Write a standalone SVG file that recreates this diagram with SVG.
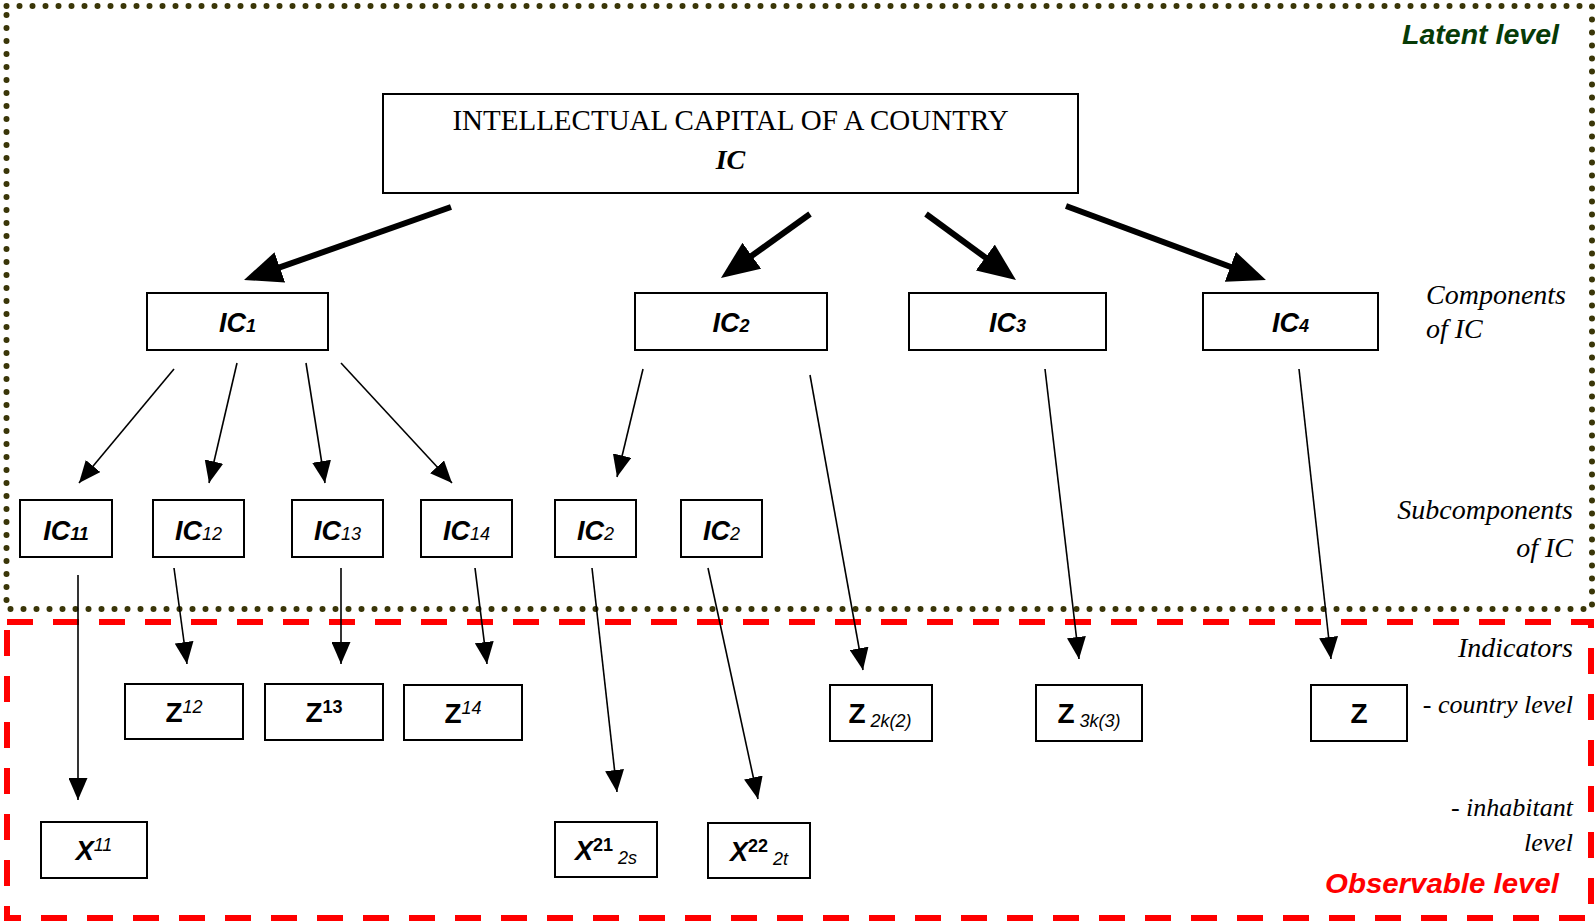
<svg xmlns="http://www.w3.org/2000/svg" width="1596" height="923" viewBox="0 0 1596 923">
<defs>
<style>
.box{fill:#fff;stroke:#000;stroke-width:2}
.nt{font-family:"Liberation Sans",Arial,sans-serif;font-weight:bold;font-style:italic;font-size:27px;text-anchor:middle;fill:#000}
.zt{font-family:"Liberation Sans Narrow","Liberation Sans",Arial,sans-serif;font-weight:bold;font-size:28px;text-anchor:middle;fill:#000}
.xt{font-family:"Liberation Sans",Arial,sans-serif;font-weight:bold;font-style:italic;font-size:27px;text-anchor:middle;fill:#000}
.sm{font-size:18px;font-weight:normal;font-style:italic}
.smb{font-size:18px;font-weight:bold}
.lbl{font-family:"Liberation Serif","Times New Roman",serif;font-style:italic;font-size:28px;fill:#000}
.lbs{font-size:26px}
.lvl{font-family:"Liberation Sans",Arial,sans-serif;font-weight:bold;font-style:italic;font-size:28px}
.thin{stroke:#000;stroke-width:1.6;fill:none;marker-end:url(#ah)}
.thick{stroke:#000;stroke-width:6;fill:none;marker-end:url(#big)}
</style>
<marker id="ah" markerUnits="userSpaceOnUse" viewBox="0 0 22 19" markerWidth="22" markerHeight="19" refX="22" refY="9.5" orient="auto">
<path d="M0,0 L22,9.5 L0,19 z" fill="#000"/>
</marker>
<marker id="big" markerUnits="userSpaceOnUse" viewBox="0 0 38 32" markerWidth="38" markerHeight="32" refX="10" refY="16" orient="auto">
<path d="M0,0 L38,16 L0,32 z" fill="#000"/>
</marker>
</defs>

<g id="levels">
<rect x="6.5" y="6" width="1585.5" height="603" fill="none" stroke="#3a3608" stroke-width="6" stroke-linecap="round" stroke-dasharray="0 13"/>
<rect x="7" y="622" width="1584" height="296" fill="none" stroke="#ff0000" stroke-width="6" stroke-dasharray="26 20"/>
<text class="lvl" x="1559" y="44" text-anchor="end" fill="#073b07" textLength="157" lengthAdjust="spacingAndGlyphs">Latent level</text>
<text class="lvl" x="1559" y="893" text-anchor="end" fill="#ff0000" textLength="234" lengthAdjust="spacingAndGlyphs">Observable level</text>
</g>

<g id="labels">
<text class="lbl" x="1426" y="304">Components</text>
<text class="lbl" x="1426" y="338">of IC</text>
<text class="lbl" x="1573" y="519" text-anchor="end">Subcomponents</text>
<text class="lbl" x="1573" y="557" text-anchor="end">of IC</text>
<text class="lbl" x="1573" y="657" text-anchor="end">Indicators</text>
<text class="lbl lbs" x="1573" y="713" text-anchor="end">- country level</text>
<text class="lbl lbs" x="1573" y="816" text-anchor="end">- inhabitant</text>
<text class="lbl lbs" x="1573" y="851" text-anchor="end">level</text>
</g>

<g id="connectors">
<line class="thick" x1="451" y1="207" x2="270.4" y2="270.7"/>
<line class="thick" x1="810" y1="214" x2="743.7" y2="261.6"/>
<line class="thick" x1="926" y1="214" x2="993.4" y2="263.4"/>
<line class="thick" x1="1066" y1="206" x2="1239.7" y2="270.3"/>
<line class="thin" x1="174" y1="369" x2="79" y2="483"/>
<line class="thin" x1="237" y1="363" x2="209" y2="483"/>
<line class="thin" x1="306" y1="363" x2="325" y2="483"/>
<line class="thin" x1="341" y1="363" x2="452" y2="483"/>
<line class="thin" x1="643" y1="369" x2="617" y2="477"/>
<line class="thin" x1="810" y1="375" x2="863" y2="670"/>
<line class="thin" x1="1045" y1="369" x2="1079" y2="659"/>
<line class="thin" x1="1299" y1="369" x2="1331" y2="659"/>
<line class="thin" x1="78" y1="575" x2="78" y2="800"/>
<line class="thin" x1="174" y1="568" x2="187" y2="664"/>
<line class="thin" x1="341" y1="568" x2="341" y2="664"/>
<line class="thin" x1="475" y1="568" x2="487" y2="664"/>
<line class="thin" x1="592" y1="568" x2="617" y2="792"/>
<line class="thin" x1="708" y1="568" x2="758" y2="799"/>
</g>

<g id="n-ic">
<rect class="box" x="383" y="94" width="695" height="99"/>
<text x="730.5" y="130" text-anchor="middle" font-family="Liberation Serif, Times New Roman, serif" font-size="29">INTELLECTUAL CAPITAL OF A COUNTRY</text>
<text x="730.5" y="169" text-anchor="middle" font-family="Liberation Serif, Times New Roman, serif" font-size="28" font-weight="bold" font-style="italic">IC</text>
</g>

<g id="n-ic1"><rect class="box" x="147" y="293" width="181" height="57"/><text class="nt" x="237.5" y="332">IC<tspan class="smb">1</tspan></text></g>
<g id="n-ic2"><rect class="box" x="635" y="293" width="192" height="57"/><text class="nt" x="731" y="332">IC<tspan class="smb">2</tspan></text></g>
<g id="n-ic3"><rect class="box" x="909" y="293" width="197" height="57"/><text class="nt" x="1007.5" y="332">IC<tspan class="smb">3</tspan></text></g>
<g id="n-ic4"><rect class="box" x="1203" y="293" width="175" height="57"/><text class="nt" x="1290.5" y="332">IC<tspan class="smb">4</tspan></text></g>

<g id="n-ic11"><rect class="box" x="20" y="500" width="92" height="57"/><text class="nt" x="66" y="540">IC<tspan class="smb">11</tspan></text></g>
<g id="n-ic12"><rect class="box" x="153" y="500" width="91" height="57"/><text class="nt" x="198.5" y="540">IC<tspan class="sm">12</tspan></text></g>
<g id="n-ic13"><rect class="box" x="292" y="500" width="91" height="57"/><text class="nt" x="337.5" y="540">IC<tspan class="sm">13</tspan></text></g>
<g id="n-ic14"><rect class="box" x="421" y="500" width="91" height="57"/><text class="nt" x="466.5" y="540">IC<tspan class="sm">14</tspan></text></g>
<g id="n-ic2a"><rect class="box" x="555" y="500" width="81" height="57"/><text class="nt" x="595.5" y="540">IC<tspan class="sm" font-style="normal">2</tspan></text></g>
<g id="n-ic2b"><rect class="box" x="681" y="500" width="81" height="57"/><text class="nt" x="721.5" y="540">IC<tspan class="sm" font-style="normal">2</tspan></text></g>

<g id="n-z12"><rect class="box" x="125" y="684" width="118" height="55"/><text class="zt" x="184" y="722">Z<tspan class="sm" dy="-9">12</tspan></text></g>
<g id="n-z13"><rect class="box" x="265" y="684" width="118" height="56"/><text class="zt" x="324" y="722">Z<tspan class="smb" dy="-9">13</tspan></text></g>
<g id="n-z14"><rect class="box" x="404" y="685" width="118" height="55"/><text class="zt" x="463" y="723">Z<tspan class="sm" dy="-9">14</tspan></text></g>
<g id="n-z2k"><rect class="box" x="830" y="685" width="102" height="56"/><text class="zt" x="880" y="723">Z<tspan class="sm" dy="4"> 2k(2)</tspan></text></g>
<g id="n-z3k"><rect class="box" x="1036" y="685" width="106" height="56"/><text class="zt" x="1089" y="723">Z<tspan class="sm" dy="4"> 3k(3)</tspan></text></g>
<g id="n-z"><rect class="box" x="1311" y="685" width="96" height="56"/><text class="zt" x="1359" y="723">Z</text></g>

<g id="n-x11"><rect class="box" x="41" y="822" width="106" height="56"/><text class="xt" x="94" y="860">X<tspan class="sm" dy="-9">11</tspan></text></g>
<g id="n-x21"><rect class="box" x="555" y="822" width="102" height="55"/><text class="xt" x="606" y="860">X<tspan class="smb" font-style="normal" dy="-9">21</tspan><tspan class="sm" dy="13"> 2s</tspan></text></g>
<g id="n-x22"><rect class="box" x="708" y="823" width="102" height="55"/><text class="xt" x="759" y="861">X<tspan class="smb" font-style="normal" dy="-9">22</tspan><tspan class="sm" dy="13"> 2t</tspan></text></g>
</svg>
